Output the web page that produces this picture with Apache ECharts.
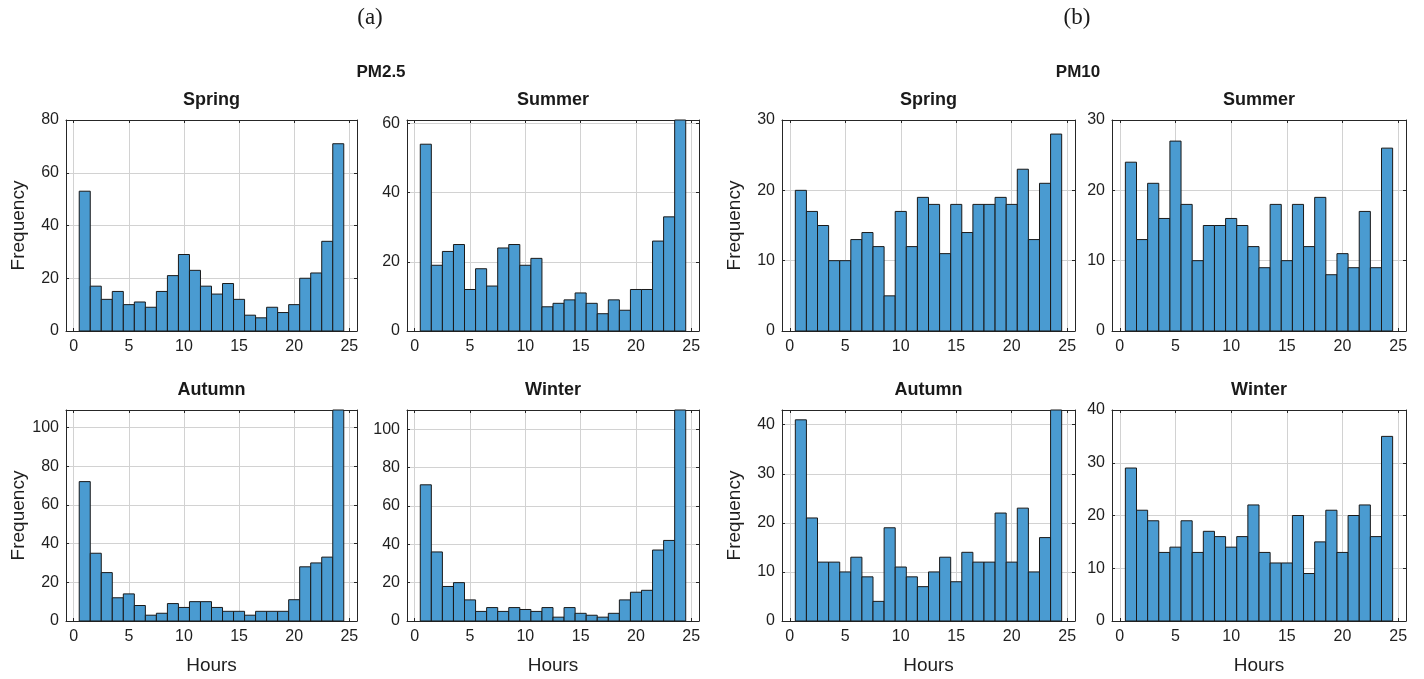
<!DOCTYPE html>
<html>
<head>
<meta charset="utf-8">
<title>PM2.5 / PM10 hourly frequency by season</title>
<script src="https://cdn.jsdelivr.net/npm/echarts@6/dist/echarts.min.js"></script>
<style>
  html, body { margin: 0; padding: 0; background: #ffffff; }
  #chart { width: 1424px; height: 679px; }
</style>
</head>
<body>
<div id="chart"></div>
<script>
// Hour bins (bin centres)
const hours = [1, 2, 3, 4, 5, 6, 7, 8, 9, 10, 11, 12, 13, 14, 15, 16, 17, 18, 19, 20, 21, 22, 23, 24];
const xTicks = [0, 5, 10, 15, 20, 25];

// PM2.5 frequencies per hour
const pm25Spring = [53, 17, 12, 15, 10, 11, 9, 15, 21, 29, 23, 17, 14, 18, 12, 6, 5, 9, 7, 10, 20, 22, 34, 71];
const pm25Summer = [54, 19, 23, 25, 12, 18, 13, 24, 25, 19, 21, 7, 8, 9, 11, 8, 5, 9, 6, 12, 12, 26, 33, 75];
const pm25Autumn = [72, 35, 25, 12, 14, 8, 3, 4, 9, 7, 10, 10, 7, 5, 5, 3, 5, 5, 5, 11, 28, 30, 33, 135];
const pm25Winter = [71, 36, 18, 20, 11, 5, 7, 5, 7, 6, 5, 7, 2, 7, 4, 3, 2, 4, 11, 15, 16, 37, 42, 130];

// PM10 frequencies per hour
const pm10Spring = [20, 17, 15, 10, 10, 13, 14, 12, 5, 17, 12, 19, 18, 11, 18, 14, 18, 18, 19, 18, 23, 13, 21, 28];
const pm10Summer = [24, 13, 21, 16, 27, 18, 10, 15, 15, 16, 15, 12, 9, 18, 10, 18, 12, 19, 8, 11, 9, 17, 9, 26];
const pm10Autumn = [41, 21, 12, 12, 10, 13, 9, 4, 19, 11, 9, 7, 10, 13, 8, 14, 12, 12, 22, 12, 23, 10, 17, 50];
const pm10Winter = [29, 21, 19, 13, 14, 19, 13, 17, 16, 14, 16, 22, 13, 11, 11, 20, 9, 15, 21, 13, 20, 22, 16, 35];

// y-axis tick labels per panel
const yTicks80 = [0, 20, 40, 60, 80];
const yTicks60 = [0, 20, 40, 60];
const yTicks100 = [0, 20, 40, 60, 80, 100];
const yTicks30 = [0, 10, 20, 30];
const yTicks40 = [0, 10, 20, 30, 40];

// panel layout: grid box, y-range, data
const panels = [
  { title: 'Spring', data: pm25Spring, yMax: 80,  yTicks: yTicks80,  left: 66,   top: 120, width: 291, ylab: true,  xlab: false },
  { title: 'Summer', data: pm25Summer, yMax: 61,  yTicks: yTicks60,  left: 407,  top: 120, width: 292, ylab: false, xlab: false },
  { title: 'Autumn', data: pm25Autumn, yMax: 109, yTicks: yTicks100, left: 66,   top: 410, width: 291, ylab: true,  xlab: true },
  { title: 'Winter', data: pm25Winter, yMax: 110, yTicks: yTicks100, left: 407,  top: 410, width: 292, ylab: false, xlab: true },
  { title: 'Spring', data: pm10Spring, yMax: 30,  yTicks: yTicks30,  left: 782,  top: 120, width: 293, ylab: true,  xlab: false },
  { title: 'Summer', data: pm10Summer, yMax: 30,  yTicks: yTicks30,  left: 1112, top: 120, width: 294, ylab: false, xlab: false },
  { title: 'Autumn', data: pm10Autumn, yMax: 43,  yTicks: yTicks40,  left: 782,  top: 410, width: 293, ylab: true,  xlab: true },
  { title: 'Winter', data: pm10Winter, yMax: 40,  yTicks: yTicks40,  left: 1112, top: 410, width: 294, ylab: false, xlab: true }
];
const PANEL_H = 211;

const INK = '#1f1f1f';
const GRIDLINE = '#d2d2d2';
const BAR_FILL = '#4a9bd1';
const BAR_EDGE = '#1a1a1a';
const SANS = '"Liberation Sans", Arial, Helvetica, sans-serif';

function renderBar(params, api) {
  const x = api.value(0);
  const v = api.value(1);
  const tl = api.coord([x - 0.5, v]);
  const br = api.coord([x + 0.5, 0]);
  const cs = params.coordSys;
  const top = Math.max(tl[1], cs.y);
  return {
    type: 'rect',
    shape: { x: tl[0], y: top, width: br[0] - tl[0], height: br[1] - top },
    style: { fill: BAR_FILL, stroke: BAR_EDGE, lineWidth: 1 }
  };
}

const grids = [], xAxes = [], yAxes = [], series = [], texts = [];

panels.forEach((p, i) => {
  grids.push({ left: p.left, top: p.top, width: p.width, height: PANEL_H, containLabel: false });

  const xBase = {
    gridIndex: i, type: 'value', min: -0.7, max: 25.7,
    axisLine: { show: true, onZero: false, lineStyle: { color: '#262626', width: 1 } },
    axisTick: { show: true, inside: true, length: 3, customValues: xTicks, lineStyle: { color: '#262626' } }
  };
  xAxes.push(Object.assign({}, xBase, {
    position: 'bottom',
    axisLabel: { show: true, customValues: xTicks, color: INK, fontSize: 16, fontFamily: SANS, margin: 8 },
    splitLine: { show: true, lineStyle: { color: GRIDLINE, width: 1 } }
  }));
  xAxes.push(Object.assign({}, xBase, {
    position: 'top',
    axisLabel: { show: false },
    splitLine: { show: false }
  }));

  const yBase = {
    gridIndex: i, type: 'value', min: 0, max: p.yMax,
    axisLine: { show: true, onZero: false, lineStyle: { color: '#262626', width: 1 } },
    axisTick: { show: true, inside: true, length: 3, customValues: p.yTicks, lineStyle: { color: '#262626' } }
  };
  yAxes.push(Object.assign({}, yBase, {
    position: 'left',
    axisLabel: { show: true, customValues: p.yTicks, color: INK, fontSize: 16, fontFamily: SANS, margin: 7 },
    splitLine: { show: true, lineStyle: { color: GRIDLINE, width: 1 } }
  }));
  yAxes.push(Object.assign({}, yBase, {
    position: 'right',
    axisLabel: { show: false },
    splitLine: { show: false }
  }));

  series.push({
    type: 'custom',
    xAxisIndex: 2 * i,
    yAxisIndex: 2 * i,
    renderItem: renderBar,
    data: hours.map((h, k) => [h, p.data[k]]),
    silent: true,
    z: 3
  });

  const cx = p.left + p.width / 2;
  texts.push({
    type: 'text', x: cx, y: p.top - 20,
    style: { text: p.title, textAlign: 'center', textVerticalAlign: 'middle', font: 'bold 18px ' + SANS, fill: '#1a1a1a' }
  });
  if (p.ylab) {
    texts.push({
      type: 'text', x: p.left - 47, y: p.top + PANEL_H / 2, rotation: Math.PI / 2,
      style: { text: 'Frequency', textAlign: 'center', textVerticalAlign: 'middle', font: '19px ' + SANS, fill: INK }
    });
  }
  if (p.xlab) {
    texts.push({
      type: 'text', x: cx, y: 666,
      style: { text: 'Hours', textAlign: 'center', textVerticalAlign: 'middle', font: '19px ' + SANS, fill: INK }
    });
  }
});

// figure-level headings
texts.push(
  { type: 'text', x: 370, y: 18, style: { text: '(a)', textAlign: 'center', textVerticalAlign: 'middle', font: '23px "Liberation Serif", "Times New Roman", serif', fill: '#1a1a1a' } },
  { type: 'text', x: 1077, y: 18, style: { text: '(b)', textAlign: 'center', textVerticalAlign: 'middle', font: '23px "Liberation Serif", "Times New Roman", serif', fill: '#1a1a1a' } },
  { type: 'text', x: 381, y: 72, style: { text: 'PM2.5', textAlign: 'center', textVerticalAlign: 'middle', font: 'bold 17px ' + SANS, fill: '#1a1a1a' } },
  { type: 'text', x: 1078, y: 72, style: { text: 'PM10', textAlign: 'center', textVerticalAlign: 'middle', font: 'bold 17px ' + SANS, fill: '#1a1a1a' } }
);

const chart = echarts.init(document.getElementById('chart'), null, { renderer: 'canvas' });
chart.setOption({
  animation: false,
  backgroundColor: '#ffffff',
  grid: grids,
  xAxis: xAxes,
  yAxis: yAxes,
  series: series,
  graphic: { elements: texts }
});
</script>
</body>
</html>
